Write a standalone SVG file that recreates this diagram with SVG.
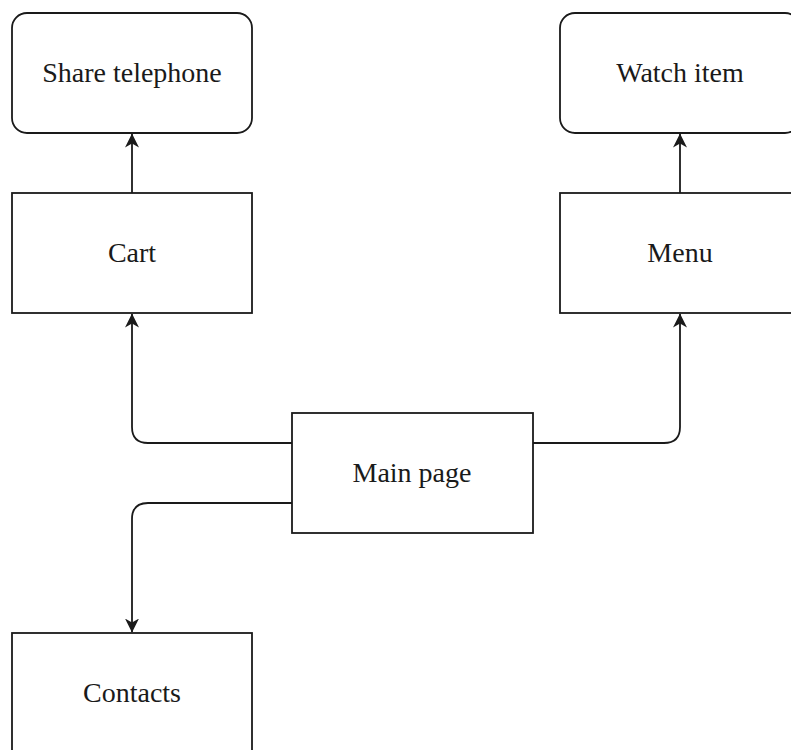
<svg xmlns="http://www.w3.org/2000/svg" width="791" height="750" viewBox="0 0 791 750">
  <defs>
    <style>
      .box { fill: #ffffff; stroke: #1a1a1a; stroke-width: 1.8; }
      .lbl { font-family: "Liberation Serif", "Times New Roman", serif; font-size: 28px; fill: #1a1a1a; text-anchor: middle; }
      .edge { fill: none; stroke: #1a1a1a; stroke-width: 1.8; }
    </style>
    <marker id="arrow" viewBox="0 0 14 14" refX="13.5" refY="7" markerWidth="14" markerHeight="14" markerUnits="userSpaceOnUse" orient="auto">
      <path d="M0,0 L14,7 L0,14 L4,7 Z" fill="#1a1a1a"/>
    </marker>
  </defs>
  <rect width="791" height="750" fill="#ffffff"/>

  <g id="connectors">
    <path class="edge" d="M132,193 L132,134" marker-end="url(#arrow)"/>
    <path class="edge" d="M680,193 L680,134" marker-end="url(#arrow)"/>
    <path class="edge" d="M292,443 L148,443 Q132,443 132,427 L132,314" marker-end="url(#arrow)"/>
    <path class="edge" d="M533,443 L664,443 Q680,443 680,427 L680,314" marker-end="url(#arrow)"/>
    <path class="edge" d="M292,503 L148,503 Q132,503 132,519 L132,632" marker-end="url(#arrow)"/>
  </g>

  <g id="share-telephone">
    <rect class="box" x="12" y="13" width="240" height="120" rx="15" ry="15"/>
    <text class="lbl" x="132" y="82">Share telephone</text>
  </g>

  <g id="watch-item">
    <rect class="box" x="560" y="13" width="240" height="120" rx="15" ry="15"/>
    <text class="lbl" x="680" y="82">Watch item</text>
  </g>

  <g id="cart">
    <rect class="box" x="12" y="193" width="240" height="120"/>
    <text class="lbl" x="132" y="262">Cart</text>
  </g>

  <g id="menu">
    <rect class="box" x="560" y="193" width="240" height="120"/>
    <text class="lbl" x="680" y="262">Menu</text>
  </g>

  <g id="main-page">
    <rect class="box" x="292" y="413" width="241" height="120"/>
    <text class="lbl" x="412" y="482">Main page</text>
  </g>

  <g id="contacts">
    <rect class="box" x="12" y="633" width="240" height="120"/>
    <text class="lbl" x="132" y="702">Contacts</text>
  </g>
</svg>
